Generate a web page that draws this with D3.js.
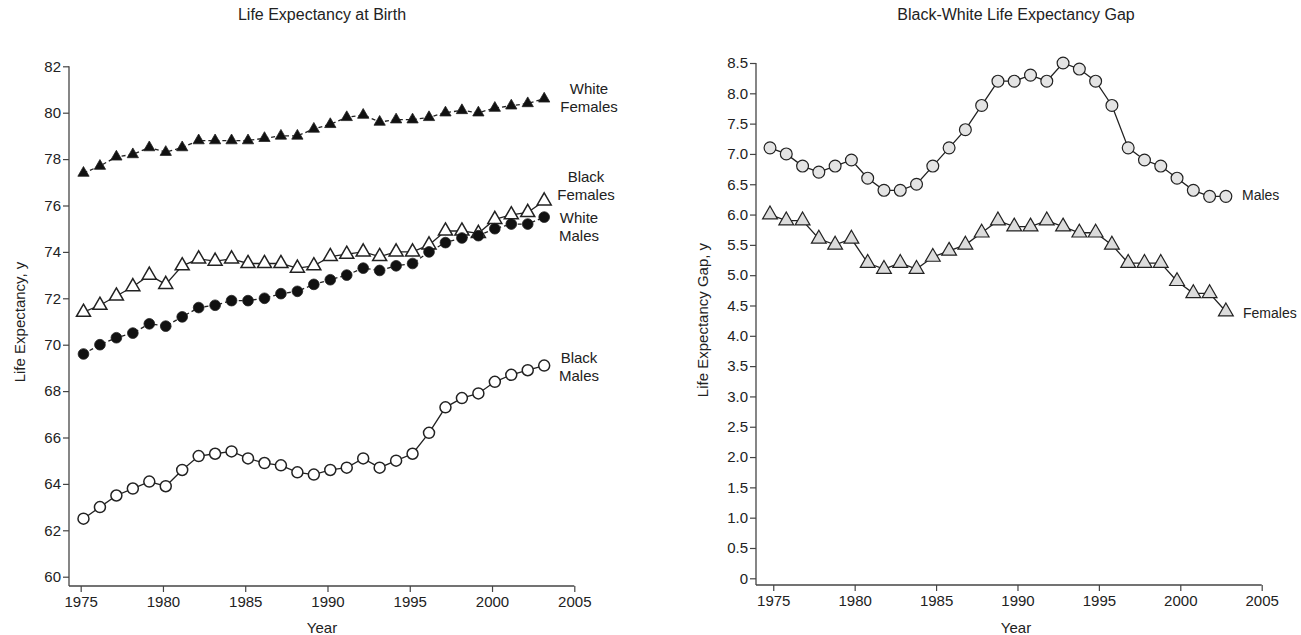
<!DOCTYPE html>
<html>
<head>
<meta charset="utf-8">
<script src="https://cdnjs.cloudflare.com/ajax/libs/d3/7.8.5/d3.min.js"></script>
<style>
  html, body { margin: 0; padding: 0; background: #fff; }
  svg { display: block; font-family: "Liberation Sans", Arial, Helvetica, sans-serif; }
  text { fill: #222; }
</style>
</head>
<body>
<svg id="chart" width="1301" height="635"></svg>
<script>
// ---- data ----
const years = [1975,1976,1977,1978,1979,1980,1981,1982,1983,1984,1985,1986,1987,1988,1989,
               1990,1991,1992,1993,1994,1995,1996,1997,1998,1999,2000,2001,2002,2003];
const whiteFemales = [77.4,77.7,78.1,78.2,78.5,78.3,78.5,78.8,78.8,78.8,78.8,78.9,79.0,79.0,79.3,
                      79.5,79.8,79.9,79.6,79.7,79.7,79.8,80.0,80.1,80.0,80.2,80.3,80.4,80.6];
const blackFemales = [71.4,71.7,72.1,72.5,73.0,72.6,73.4,73.7,73.6,73.7,73.5,73.5,73.5,73.3,73.4,
                      73.8,73.9,74.0,73.8,74.0,74.0,74.3,74.9,74.9,74.8,75.4,75.6,75.7,76.2];
const whiteMales = [69.6,70.0,70.3,70.5,70.9,70.8,71.2,71.6,71.7,71.9,71.9,72.0,72.2,72.3,72.6,
                    72.8,73.0,73.3,73.2,73.4,73.5,74.0,74.4,74.6,74.7,75.0,75.2,75.2,75.5];
const blackMales = [62.5,63.0,63.5,63.8,64.1,63.9,64.6,65.2,65.3,65.4,65.1,64.9,64.8,64.5,64.4,
                    64.6,64.7,65.1,64.7,65.0,65.3,66.2,67.3,67.7,67.9,68.4,68.7,68.9,69.1];
const gapMales = [7.1,7.0,6.8,6.7,6.8,6.9,6.6,6.4,6.4,6.5,6.8,7.1,7.4,7.8,8.2,
                  8.2,8.3,8.2,8.5,8.4,8.2,7.8,7.1,6.9,6.8,6.6,6.4,6.3,6.3];
const gapFemales = [6.0,5.9,5.9,5.6,5.5,5.6,5.2,5.1,5.2,5.1,5.3,5.4,5.5,5.7,5.9,
                    5.8,5.8,5.9,5.8,5.7,5.7,5.5,5.2,5.2,5.2,4.9,4.7,4.7,4.4];
const xTicks = [1975,1980,1985,1990,1995,2000,2005];
const leftYTicks = [60,62,64,66,68,70,72,74,76,78,80,82];
const rightYTicks = [0,0.5,1,1.5,2,2.5,3,3.5,4,4.5,5,5.5,6,6.5,7,7.5,8,8.5];
const leftTitle = "Life Expectancy at Birth";
const rightTitle = "Black-White Life Expectancy Gap";
const leftYLabel = "Life Expectancy, y";
const rightYLabel = "Life Expectancy Gap, y";
const xLabel = "Year";

// ---- layout ----
const svg = d3.select("#chart");
const FS = 15;
const axisColor = "#444";
const lineColor = "#222";

function drawPanel(cfg) {
  const g = svg.append("g");
  const x = d3.scaleLinear().domain(cfg.xDomain).range(cfg.xRange);
  const y = d3.scaleLinear().domain(cfg.yDomain).range(cfg.yRange);
  const base = cfg.baseY;
  const x0 = cfg.xRange[0];

  // axes lines
  g.append("line").attr("x1", x0).attr("x2", x(2005)).attr("y1", base).attr("y2", base)
    .attr("stroke", axisColor).attr("stroke-width", 1.3);
  g.append("line").attr("x1", x0).attr("x2", x0).attr("y1", base).attr("y2", y(cfg.yTicks[cfg.yTicks.length-1]))
    .attr("stroke", axisColor).attr("stroke-width", 1.3);

  const xa = g.append("g").attr("transform", `translate(0,${base})`)
    .call(d3.axisBottom(x).tickValues(xTicks).tickFormat(d3.format("d")).tickSize(6).tickPadding(4).tickSizeOuter(0));
  xa.select(".domain").remove();
  xa.selectAll("line").attr("stroke", axisColor).attr("stroke-width", 1.2);
  xa.selectAll("text").attr("font-size", FS).attr("fill", "#222").attr("font-family", null);

  const ya = g.append("g").attr("transform", `translate(${x0},0)`)
    .call(d3.axisLeft(y).tickValues(cfg.yTicks).tickFormat(cfg.yFormat).tickSize(6).tickPadding(2).tickSizeOuter(0));
  ya.select(".domain").remove();
  ya.selectAll("line").attr("stroke", axisColor).attr("stroke-width", 1.2);
  ya.selectAll("text").attr("font-size", FS).attr("fill", "#222").attr("font-family", null);

  // titles
  g.append("text").attr("x", cfg.titleX).attr("y", 20).attr("text-anchor", "middle")
    .attr("font-size", 16).text(cfg.title);
  g.append("text").attr("x", cfg.titleX).attr("y", 633).attr("text-anchor", "middle")
    .attr("font-size", FS).text(xLabel);
  g.append("text").attr("transform", `translate(${cfg.yLabelX},${cfg.yLabelY}) rotate(-90)`)
    .attr("text-anchor", "middle").attr("font-size", FS).text(cfg.yLabel);

  // series
  cfg.series.forEach(s => {
    const pts = years.map((yr, i) => [x(yr + cfg.xOffset), y(s.values[i])]);
    g.append("path").attr("d", d3.line()(pts)).attr("fill", "none")
      .attr("stroke", lineColor).attr("stroke-width", 1.3)
      .attr("stroke-dasharray", s.dashed ? "4,3" : null);
    const sym = d3.symbol().type(s.shape === "triangle" ? d3.symbolTriangle : d3.symbolCircle).size(s.size);
    g.selectAll(null).data(pts).join("path")
      .attr("d", sym)
      .attr("transform", d => `translate(${d[0]},${d[1]})`)
      .attr("fill", s.fill).attr("stroke", lineColor).attr("stroke-width", s.strokeWidth);
    s.label.forEach((t, i) => {
      g.append("text").attr("x", s.labelX).attr("y", s.labelY + i * 18)
        .attr("text-anchor", s.anchor).attr("font-size", s.labelSize || FS).text(t);
    });
  });
}

drawPanel({
  xDomain: [1974.29, 2005], xRange: [69, 574.3],
  yDomain: [60, 82], yRange: [576.7, 66.3],
  baseY: 586, yTicks: leftYTicks, yFormat: d3.format("d"),
  title: leftTitle, titleX: 322, yLabel: leftYLabel, yLabelX: 25, yLabelY: 322,
  xOffset: 0.17,
  series: [
    {values: whiteFemales, shape: "triangle", size: 55, fill: "#111", strokeWidth: 0.8, dashed: true,
     label: ["White", "Females"], labelX: 589, labelY: 94, anchor: "middle"},
    {values: blackFemales, shape: "triangle", size: 85, fill: "#fff", strokeWidth: 1.5, dashed: false,
     label: ["Black", "Females"], labelX: 586, labelY: 182, anchor: "middle"},
    {values: whiteMales, shape: "circle", size: 90, fill: "#111", strokeWidth: 0.8, dashed: true,
     label: ["White", "Males"], labelX: 579, labelY: 223, anchor: "middle"},
    {values: blackMales, shape: "circle", size: 95, fill: "#fff", strokeWidth: 1.5, dashed: false,
     label: ["Black", "Males"], labelX: 579, labelY: 363, anchor: "middle"}
  ]
});

drawPanel({
  xDomain: [1973.94, 2005], xRange: [756, 1261.7],
  yDomain: [0, 8.5], yRange: [578.3, 63],
  baseY: 585, yTicks: rightYTicks, yFormat: d => d === 0 ? "0" : d3.format(".1f")(d),
  title: rightTitle, titleX: 1016, yLabel: rightYLabel, yLabelX: 708, yLabelY: 320,
  xOffset: -0.2,
  series: [
    {values: gapMales, shape: "circle", size: 110, fill: "#e4e4e4", strokeWidth: 1.2, dashed: false,
     label: ["Males"], labelX: 1242, labelY: 200, anchor: "start", labelSize: 14},
    {values: gapFemales, shape: "triangle", size: 95, fill: "#dcdcdc", strokeWidth: 1.2, dashed: false,
     label: ["Females"], labelX: 1243, labelY: 318, anchor: "start", labelSize: 14}
  ]
});
</script>
</body>
</html>
